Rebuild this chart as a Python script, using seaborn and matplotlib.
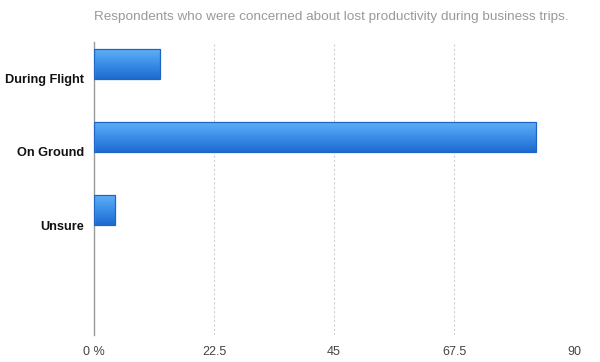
import numpy as np
import pandas as pd
import matplotlib
matplotlib.use("Agg")
import matplotlib.pyplot as plt
import seaborn as sns
from matplotlib.colors import LinearSegmentedColormap

categories = ["During Flight", "On Ground", "Unsure"]
values = [12.4, 82.9, 3.9]
xticks = [0, 22.5, 45, 67.5, 90]
xtick_labels = ["0 %", "22.5", "45", "67.5", "90"]
title = "Respondents who were concerned about lost productivity during business trips."

df = pd.DataFrame({"category": categories, "value": values})

sns.set_theme(style="white")
plt.rcParams["font.family"] = ["Liberation Sans", "DejaVu Sans"]

fig = plt.figure(figsize=(6.0, 3.62), dpi=100)
ax = fig.add_axes([94/600, 1-335/362, 480/600, 293/362])

sns.barplot(data=df, x="value", y="category", orient="h", ax=ax,
            width=0.41, color="#3a8ae6", saturation=1, linewidth=0)

cmap = LinearSegmentedColormap.from_list("g", ["#62b0f7", "#3b8fe8", "#1e6ad0"])
grad = np.linspace(0, 1, 64).reshape(-1, 1)
for p in list(ax.patches):
    x0, y0 = p.get_x(), p.get_y()
    w, h = p.get_width(), p.get_height()
    im = ax.imshow(grad, cmap=cmap, extent=(x0, x0 + w, y0 + h, y0),
                   origin="upper", aspect="auto", zorder=2, interpolation="bilinear")
    im.set_clip_path(p)
    p.set_facecolor("none")
    p.set_edgecolor("#1f65c6")
    p.set_linewidth(0.9)
    p.set_zorder(3)

ax.set_xlim(0, 90)
ax.set_ylim(3.70, -0.30)
ax.set_aspect("auto")

ax.set_xticks(xticks)
ax.set_xticklabels(xtick_labels, color="#444444", fontsize=9)
ax.set_yticks(np.arange(len(categories)) + 0.2)
ax.set_yticklabels(categories, fontsize=9.2, fontweight="bold", color="#111111")
ax.tick_params(axis="both", length=0)
ax.tick_params(axis="x", pad=8)
ax.tick_params(axis="y", pad=7)

for xv in xticks[1:]:
    ax.axvline(xv, color="#d0d0d0", linestyle=(0, (2, 2)), linewidth=0.8, zorder=0)

for s in ["top", "right", "bottom"]:
    ax.spines[s].set_visible(False)
ax.spines["left"].set_color("#999999")
ax.spines["left"].set_linewidth(1.0)
ax.set_xlabel("")
ax.set_ylabel("")

fig.text(94/600, 1-17/362, title, fontsize=9.7, color="#999999", ha="left", va="center")

fig.savefig("out.png", dpi=100)
